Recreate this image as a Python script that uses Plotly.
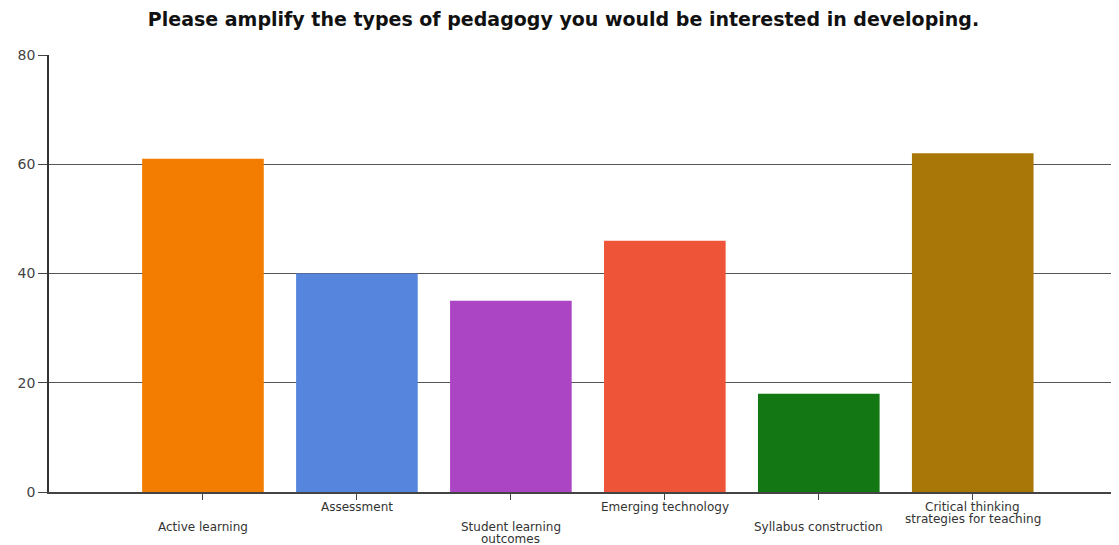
import plotly.graph_objects as go

categories = ["Active learning", "Assessment", "Student learning<br>outcomes",
              "Emerging technology", "Syllabus construction",
              "Critical thinking<br>strategies for teaching"]
values = [61, 40, 35, 46, 18, 62]
colors = ["#F27D00", "#5585DD", "#AB45C4", "#EE5437", "#137813", "#A87708"]
y_ticks = [0, 20, 40, 60, 80]

positions = list(range(len(categories)))

PLOT_H = 437  # plot area height in px
fig = go.Figure()
fig.add_trace(go.Bar(
    x=positions, y=values, width=0.79,
    marker=dict(color=colors, line=dict(width=0)),
    hoverinfo="skip",
))

# staggered category labels, line spacing tightened
for i, cat in enumerate(categories):
    first_offset = 15 if i % 2 else 35  # px below axis for first line centre
    for j, line in enumerate(cat.split("<br>")):
        off = first_offset + 12 * j
        fig.add_annotation(
            x=i, xref="x", y=-off / PLOT_H, yref="paper",
            text=line, showarrow=False, yanchor="middle", xanchor="center",
            font=dict(family="DejaVu Sans, Verdana, sans-serif", size=12, color="#333"),
        )

fig.update_layout(
    width=1111, height=537,
    margin=dict(l=41, r=0, t=47, b=53, autoexpand=False),
    paper_bgcolor="white", plot_bgcolor="white",
    title=dict(text="<b>Please amplify the types of pedagogy you would be interested in developing.</b>",
               x=0.5, xanchor="center", y=0.979, yanchor="middle",
               font=dict(family="DejaVu Sans, Verdana, sans-serif", size=19, color="#111")),
    showlegend=False,
    xaxis=dict(range=[-1, 5.95], tickvals=positions, ticktext=[""] * len(positions),
               ticks="outside", ticklen=6, tickcolor="#444", showgrid=False,
               showline=True, linecolor="#444", linewidth=1.5, zeroline=False, fixedrange=True),
    yaxis=dict(range=[0, 80], tickvals=y_ticks, ticks="outside", ticklen=9,
               tickcolor="#444", showgrid=True, gridcolor="#555", gridwidth=1,
               showline=True, linecolor="#333", linewidth=1.5, zeroline=False,
               tickfont=dict(family="DejaVu Sans, Verdana, sans-serif", size=14, color="#444"),
               fixedrange=True),
)

fig.write_html("out.html")
